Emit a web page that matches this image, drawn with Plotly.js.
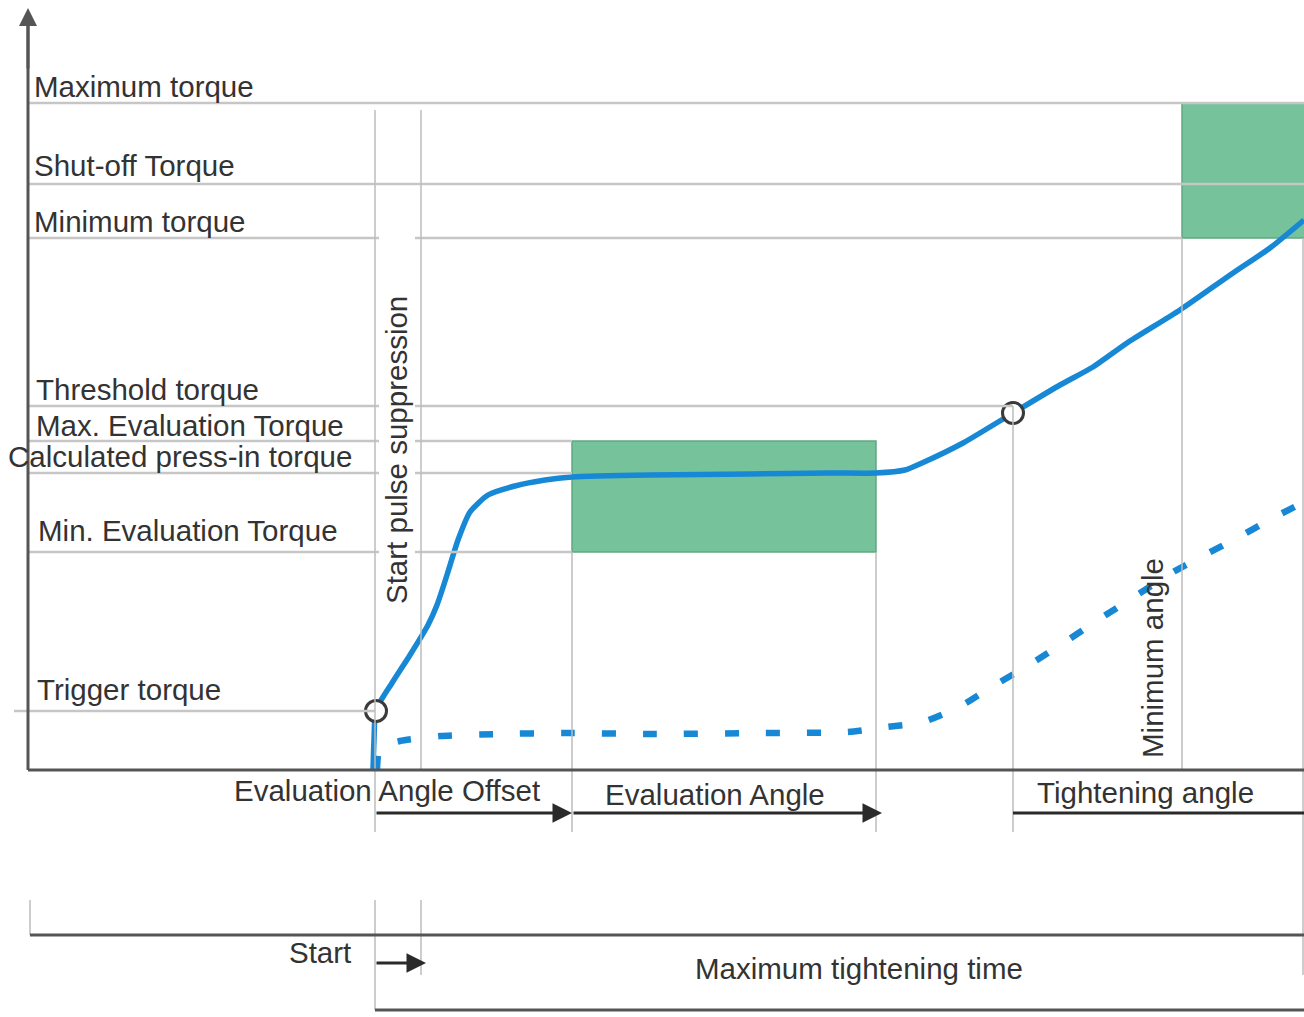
<!DOCTYPE html>
<html>
<head>
<meta charset="utf-8">
<script src="https://cdn.plot.ly/plotly-3.0.1.min.js"></script>
<style>html,body{margin:0;padding:0;background:#fff;}#chart{width:1304px;height:1017px;}</style>
</head>
<body>
<div id="chart"></div>
<script>
// ---------- DATA (angle units on x, torque units on y; baseline torque = 0) ----------
const levelNames = ['Maximum torque', 'Shut-off Torque', 'Minimum torque', 'Threshold torque',
  'Max. Evaluation Torque', 'Calculated press-in torque', 'Min. Evaluation Torque', 'Trigger torque'];
const levelTorque = [667, 586, 532, 364, 329, 297, 218, 59];

// key angles
const angleStart = 375;        // start / trigger
const anglePulseEnd = 421;     // end of start pulse suppression
const angleEvalStart = 572;    // evaluation window start
const angleEvalEnd = 876;      // evaluation window end
const angleThreshold = 1013;   // threshold torque reached
const angleMinimum = 1182;     // minimum angle
const angleMax = 1304;         // end of diagram

// torque curve (solid)
const torqueAngle = [373, 374, 376, 392, 410, 428, 437, 447, 458, 470, 488, 515, 545, 572, 650, 750, 830, 876, 905, 922, 963, 1013, 1060, 1093, 1127, 1180, 1233, 1270, 1304];
const torqueValue = [0, 30, 60, 87, 115, 145, 165, 195, 230, 258, 275, 284, 290, 293, 295, 296, 297, 297, 300, 307, 327, 357, 385, 403, 427, 460, 497, 522, 550];

// second curve (dashed)
const dashAngle = [377, 380, 400, 440, 500, 565, 650, 760, 848, 887, 923, 959, 995, 1029, 1065, 1098, 1134, 1173, 1201, 1237, 1273, 1304];
const dashValue = [0, 22, 29, 34, 36, 37, 36, 37, 38, 43, 48, 63, 85, 105, 128, 150, 173, 198, 213, 232, 252, 268];

// marked points
const markAngle = [376, 1013];
const markTorque = [59, 357];

const lowerLabels = ['Evaluation Angle Offset', 'Evaluation Angle', 'Tightening angle'];
const timeLabels = ['Start', 'Maximum tightening time'];
const verticalLabels = ['Start pulse suppression', 'Minimum angle'];

// ---------- DRAWING ----------
const gridC = '#c6c6c6', vC = '#bdbdbd', axisC = '#555555', darkC = '#2a2a2a';
const textC = '#333333', blue = '#1788d6', green = '#76c39b', greenEdge = '#5fa883';
const FONT = 'Liberation Sans, Arial, sans-serif';
const FS = 29.5;

const shapes = [];
function hline(y, x0, x1, color, w) {
  shapes.push({type: 'line', xref: 'x', yref: 'y', x0: x0, x1: x1, y0: y, y1: y, line: {color: color, width: w}});
}
function vline(x, y0, y1, color, w) {
  shapes.push({type: 'line', xref: 'x', yref: 'y', x0: x, x1: x, y0: y0, y1: y1, line: {color: color, width: w}});
}
function rect(x0, x1, y0, y1) {
  shapes.push({type: 'rect', xref: 'x', yref: 'y', x0: x0, x1: x1, y0: y0, y1: y1,
    fillcolor: green, line: {color: greenEdge, width: 1.5}, layer: 'below'});
}

const axisX = 28;
const gapL = angleStart + 4, gapR = anglePulseEnd - 6;
// green windows
rect(angleEvalStart, angleEvalEnd, levelTorque[6], levelTorque[4]);
rect(angleMinimum, angleMax + 2, levelTorque[2], levelTorque[0]);

// horizontal reference lines
hline(levelTorque[0], axisX, angleMax, gridC, 2.5);
hline(levelTorque[1], axisX, angleMax, gridC, 2.5);
hline(levelTorque[2], axisX, gapL, gridC, 2.5); hline(levelTorque[2], gapR, angleMinimum, gridC, 2.5);
hline(levelTorque[3], axisX, gapL, gridC, 2.5); hline(levelTorque[3], gapR, angleThreshold, gridC, 2.5);
hline(levelTorque[4], axisX, gapL, gridC, 2.5); hline(levelTorque[4], gapR, angleEvalStart, gridC, 2.5);
hline(levelTorque[5], axisX, gapL, gridC, 2.5); hline(levelTorque[5], gapR, angleEvalStart, gridC, 2.5);
hline(levelTorque[6], axisX, gapL, gridC, 2.5); hline(levelTorque[6], gapR, angleEvalStart, gridC, 2.5);
hline(levelTorque[7], 14, angleStart, gridC, 2.5);

// vertical guide lines
const topGuide = levelTorque[0] - 7;
vline(angleStart, topGuide, -62, vC, 1.5);
vline(angleStart, -130, -240, vC, 1.5);
vline(anglePulseEnd, topGuide, 0, vC, 1.5);
vline(anglePulseEnd, -130, -205, vC, 1.5);
vline(angleEvalStart, levelTorque[6], -62, vC, 1.5);
vline(angleEvalEnd, levelTorque[6], -62, vC, 1.5);
vline(angleThreshold, levelTorque[3], -62, vC, 1.5);
vline(angleMinimum, levelTorque[2], 0, vC, 1.5);
vline(angleMax - 1, levelTorque[2], -205, vC, 1.5);
vline(30, -130, -165, vC, 1.5);

// axes
hline(0, axisX, angleMax, axisC, 3);
vline(axisX, 0, 755, axisC, 3);

// lower angle bars & time bars
hline(-43, angleThreshold, angleMax, darkC, 3);
hline(-165, 30, angleMax, axisC, 3);
hline(-240, angleStart, angleMax, axisC, 3);

const annotations = [];
// left labels
const labelX = [32, 32, 32, 34, 34, null, 36, 35];
const labelY = [684, 605, 549, 381, 345, 314, 240, 81];
levelNames.forEach((t, i) => {
  if (i === 5) {
    annotations.push({x: 354, y: labelY[i], xref: 'x', yref: 'y', text: t, showarrow: false,
      xanchor: 'right', yanchor: 'middle', font: {family: FONT, size: FS, color: textC}});
  } else {
    annotations.push({x: labelX[i], y: labelY[i], xref: 'x', yref: 'y', text: t, showarrow: false,
      xanchor: 'left', yanchor: 'middle', font: {family: FONT, size: FS, color: textC}});
  }
});
// vertical labels
annotations.push({x: 396, y: 320, xref: 'x', yref: 'y', text: verticalLabels[0], textangle: -90,
  showarrow: false, xanchor: 'center', yanchor: 'middle', font: {family: FONT, size: FS, color: textC}});
annotations.push({x: 1152, y: 112, xref: 'x', yref: 'y', text: verticalLabels[1], textangle: -90,
  showarrow: false, xanchor: 'center', yanchor: 'middle', font: {family: FONT, size: FS, color: textC}});
// lower labels
annotations.push({x: 387, y: -20, xref: 'x', yref: 'y', text: lowerLabels[0], showarrow: false,
  xanchor: 'center', yanchor: 'middle', font: {family: FONT, size: FS, color: textC}});
annotations.push({x: 715, y: -24, xref: 'x', yref: 'y', text: lowerLabels[1], showarrow: false,
  xanchor: 'center', yanchor: 'middle', font: {family: FONT, size: FS, color: textC}});
annotations.push({x: 1145, y: -22, xref: 'x', yref: 'y', text: lowerLabels[2], showarrow: false,
  xanchor: 'center', yanchor: 'middle', font: {family: FONT, size: FS, color: textC}});
annotations.push({x: 353, y: -182, xref: 'x', yref: 'y', text: timeLabels[0], showarrow: false,
  xanchor: 'right', yanchor: 'middle', font: {family: FONT, size: FS, color: textC}});
annotations.push({x: 859, y: -198, xref: 'x', yref: 'y', text: timeLabels[1], showarrow: false,
  xanchor: 'center', yanchor: 'middle', font: {family: FONT, size: FS, color: textC}});

// arrows
function arrow(x0, y0, x1, y1, color, w, size) {
  annotations.push({x: x1, y: y1, ax: x0, ay: y0, xref: 'x', yref: 'y', axref: 'x', ayref: 'y',
    text: '', showarrow: true, arrowhead: 2, arrowsize: size, arrowwidth: w, arrowcolor: color, standoff: 0});
}
arrow(axisX, 700, axisX, 762, axisC, 3, 1.2);
arrow(angleStart, -43, angleEvalStart, -43, darkC, 3, 1.3);
arrow(angleEvalStart, -43, angleEvalEnd + 6, -43, darkC, 3, 1.3);
arrow(angleStart, -193, anglePulseEnd + 5, -193, darkC, 3, 1.3);

const traces = [
  {x: dashAngle, y: dashValue, type: 'scatter', mode: 'lines',
    line: {color: blue, width: 6.5, dash: '14px,27px', shape: 'spline', smoothing: 0.6}, hoverinfo: 'skip'},
  {x: torqueAngle, y: torqueValue, type: 'scatter', mode: 'lines',
    line: {color: blue, width: 5.5, shape: 'spline', smoothing: 0.6}, hoverinfo: 'skip'},
  {x: markAngle, y: markTorque, type: 'scatter', mode: 'markers',
    marker: {size: 21, color: '#ffffff', opacity: 1, line: {color: '#3a3a3a', width: 3}}, hoverinfo: 'skip'}
];

const layout = {
  width: 1304, height: 1017,
  margin: {l: 0, r: 0, t: 0, b: 0, pad: 0},
  paper_bgcolor: '#ffffff', plot_bgcolor: '#ffffff',
  showlegend: false,
  xaxis: {range: [0, 1304], visible: false, fixedrange: true},
  yaxis: {range: [-247, 770], visible: false, fixedrange: true},
  shapes: shapes,
  annotations: annotations
};

Plotly.newPlot('chart', traces, layout, {staticPlot: true, displayModeBar: false});
</script>
</body>
</html>
